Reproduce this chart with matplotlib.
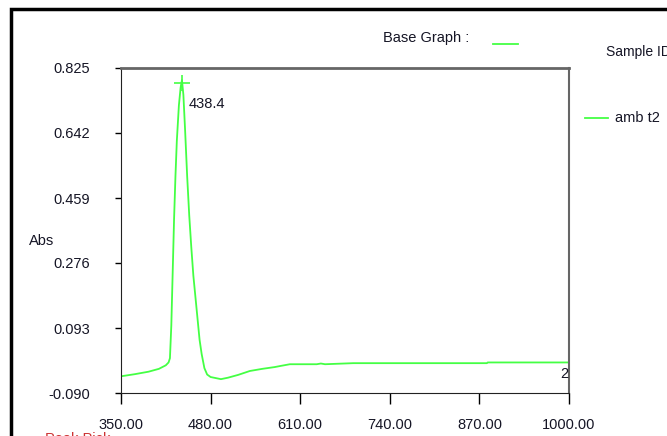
import numpy as np
import matplotlib.pyplot as plt
from matplotlib.patches import Rectangle

# Spectrum (nm, Abs)
wavelength = [350, 370, 390, 405, 415, 419, 421, 423, 425, 427, 429, 431, 434, 436.5, 438.4,
              440.5, 443, 446, 449, 452, 455, 458, 461, 464, 467, 471, 475, 480, 490, 495,
              505, 520, 537, 555, 573, 581, 595, 634, 640, 646, 687, 881, 882, 1000]
absorbance = [-0.043, -0.037, -0.030, -0.022, -0.012, -0.004, 0.008, 0.10, 0.25, 0.40, 0.52,
              0.62, 0.72, 0.77, 0.791, 0.75, 0.65, 0.52, 0.41, 0.32, 0.24, 0.18, 0.12, 0.06,
              0.02, -0.02, -0.038, -0.045, -0.049, -0.051, -0.047, -0.039, -0.028, -0.022,
              -0.017, -0.014, -0.009, -0.009, -0.007, -0.009, -0.006, -0.006, -0.004, -0.004]

x_ticks = [350, 480, 610, 740, 870, 1000]
y_ticks = [-0.090, 0.093, 0.276, 0.459, 0.642, 0.825]
peak_nm = 438.4
peak_abs = 0.784
sample_name = "amb t2"

green = '#44ff44'
txt = '#151525'
plt.rcParams['font.family'] = ['Liberation Sans', 'DejaVu Sans']

fig = plt.figure(figsize=(6.67, 4.36), dpi=100)
ax = fig.add_axes([121 / 667, 43 / 436, 448 / 667, 325 / 436])

ax.plot(wavelength, absorbance, color=green, lw=1.3)
ax.plot(peak_nm, peak_abs, marker='+', color=green, ms=12, mew=1.2)
ax.text(peak_nm + 9, peak_abs - 0.06, f"{peak_nm}", color=txt, fontsize=10.5, va='center')
ax.text(999, absorbance[-1] - 0.012, "2", color=txt, fontsize=10.5, ha='right', va='top')

ax.set_xlim(350, 1000)
ax.set_ylim(-0.090, 0.825)
ax.set_xticks(x_ticks)
ax.set_xticklabels([f"{v:.2f}" for v in x_ticks])
ax.set_yticks(y_ticks)
ax.set_yticklabels([f"{v:.3f}" for v in y_ticks])
ax.tick_params(axis='x', direction='out', length=8, width=1, pad=10, labelsize=10.5, labelcolor=txt)
ax.tick_params(axis='y', direction='out', length=4, width=1, pad=18, labelsize=10.5, labelcolor=txt)

ax.spines['left'].set_color('#222222')
ax.spines['bottom'].set_color('#222222')
ax.spines['top'].set_color('#666666')
ax.spines['top'].set_linewidth(2)
ax.spines['right'].set_color('#666666')
ax.spines['right'].set_linewidth(1.5)

fig.text(42 / 667, 1 - 241 / 436, "Abs", color=txt, fontsize=10.5, ha='center', va='center')
fig.text(383 / 667, 1 - 38 / 436, "Base Graph :", color=txt, fontsize=10.5, va='center')
fig.add_artist(plt.Line2D([493 / 667, 518 / 667], [1 - 44 / 436] * 2, color=green, lw=1.3))
fig.text(606 / 667, 1 - 52 / 436, "Sample ID", color=txt, fontsize=10, va='center')
fig.add_artist(plt.Line2D([585 / 667, 608 / 667], [1 - 118 / 436] * 2, color=green, lw=1.3))
fig.text(615 / 667, 1 - 118 / 436, sample_name, color=txt, fontsize=10.5, va='center')
fig.text(45 / 667, 1 - 446 / 436, "Peak Pick", color='#cc3333', fontsize=10.5, va='bottom')

# black frame of the printout
fig.add_artist(Rectangle((11 / 667, -0.1), 1.2, 1 - 9 / 436 + 0.1, transform=fig.transFigure,
                         fill=False, ec='black', lw=2.5))

fig.savefig('out.png', dpi=100)
